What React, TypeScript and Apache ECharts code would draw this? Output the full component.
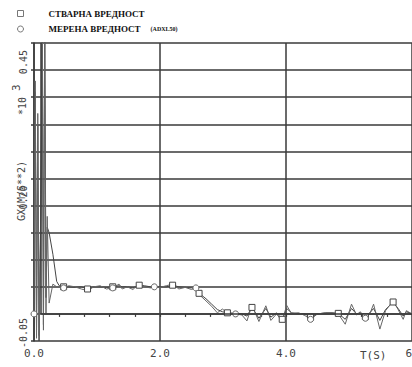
import React, { useEffect, useRef } from "react";
import * as echarts from "echarts";

const NAME_TRUE = "СТВАРНА ВРЕДНОСТ";
const NAME_MEAS = "МЕРЕНА ВРЕДНОСТ (ADXL50)";

const time = [0, 0.02, 0.04, 0.06, 0.08, 0.11, 0.13, 0.15, 0.17, 0.19, 0.21, 0.24, 0.30, 0.36, 0.40, 0.47, 0.55, 0.65, 0.75, 0.85, 0.95, 1.05, 1.15, 1.25, 1.35, 1.40, 1.48, 1.57, 1.67, 1.75, 1.85, 1.91, 2.0, 2.1, 2.2, 2.3, 2.4, 2.5, 2.57, 2.62, 2.73, 2.82, 2.91, 2.99, 3.07, 3.2, 3.3, 3.38, 3.46, 3.57, 3.68, 3.76, 3.85, 3.94, 4.01, 4.09, 4.2, 4.3, 4.39, 4.5, 4.63, 4.73, 4.83, 4.94, 5.04, 5.12, 5.18, 5.26, 5.33, 5.39, 5.49, 5.58, 5.7, 5.78, 5.86, 5.91, 6.0];

const measured = [0, 0.43, -0.045, 0.37, -0.04, 0.22, 0.57, -0.03, 0.53, 0.0, 0.18, 0.02, 0.055, 0.05, 0.05, 0.048, 0.052, 0.05, 0.046, 0.043, 0.05, 0.052, 0.046, 0.048, 0.055, 0.046, 0.05, 0.045, 0.056, 0.05, 0.048, 0.05, 0.049, 0.052, 0.055, 0.046, 0.049, 0.045, 0.048, 0.036, 0.024, 0.014, 0.002, 0.009, 0.002, 0.0, -0.002, -0.013, 0.016, -0.014, 0.015, -0.012, 0.0, -0.014, 0.016, 0.0, 0.002, -0.003, -0.01, 0.0, 0.002, 0.002, 0.0, -0.019, 0.018, -0.002, 0.004, -0.008, 0.0, 0.018, -0.028, 0.006, 0.024, 0.008, -0.01, 0.006, 0.0];

const actual = [0, 0.41, -0.03, 0.35, -0.05, 0.2, 0.52, -0.02, 0.56, 0.03, 0.16, 0.15, 0.11, 0.06, 0.052, 0.05, 0.05, 0.049, 0.05, 0.046, 0.05, 0.05, 0.049, 0.05, 0.052, 0.05, 0.05, 0.048, 0.053, 0.052, 0.05, 0.05, 0.05, 0.05, 0.053, 0.05, 0.049, 0.048, 0.046, 0.038, 0.028, 0.018, 0.008, 0.004, 0.002, 0.001, 0.0, -0.004, 0.012, -0.008, 0.01, -0.006, 0.002, -0.01, 0.01, 0.002, 0.001, 0.0, -0.006, 0.0, 0.002, 0.002, 0.001, -0.01, 0.01, 0.0, 0.002, -0.005, 0.002, 0.01, -0.012, 0.008, 0.022, 0.01, -0.004, 0.004, 0.0];

// times where markers are drawn
const squareTimes = [0.47, 0.85, 1.25, 1.67, 2.2, 2.62, 3.07, 3.46, 3.94, 4.39, 4.83, 5.26, 5.7];
const circleTimes = [0, 0.47, 1.25, 1.91, 2.57, 3.2, 4.39, 5.26];

const xLabels = ["0.0", "2.0", "4.0", "6"];
const yLabelValues = [-0.05, 0.2, 0.45];

const FRAME_T = 0.115;

export default function App() {
  const ref = useRef<HTMLDivElement>(null);
  useEffect(() => {
    if (!ref.current) return;
    const chart = echarts.init(ref.current, undefined, { renderer: "svg" });
    const lineCol = "#444";
    const gridCol = "#3a3a3a";
    const build = (vals: number[], marks: number[]) =>
      time.map((t, i) => {
        const has = marks.some((m) => Math.abs(m - t) < 1e-6);
        return has ? { value: [t, vals[i]] } : { value: [t, vals[i]], symbol: "none" };
      });
    const splitColors = Array.from({ length: 12 }, (_, i) => (i === 1 ? "rgba(0,0,0,0)" : gridCol));
    const mono = "DejaVu Sans Mono";
    chart.setOption({
      animation: false,
      backgroundColor: "#ffffff",
      legend: {
        orient: "vertical",
        left: 12,
        top: 4,
        itemWidth: 6,
        itemHeight: 6,
        itemGap: 5,
        selectedMode: false,
        data: [
          { name: NAME_TRUE, icon: "rect", itemStyle: { color: "#fff", borderColor: "#777", borderWidth: 1 } },
          { name: NAME_MEAS, icon: "circle", itemStyle: { color: "#fff", borderColor: "#777", borderWidth: 1 } },
        ],
        formatter: (name: string) =>
          name === NAME_MEAS ? "{a|МЕРЕНА ВРЕДНОСТ}   {b|(ADXL50)}" : "{a|" + name + "}",
        textStyle: {
          padding: [0, 0, 0, 20],
          rich: {
            a: { fontFamily: "Liberation Serif", fontWeight: "bold", fontSize: 9, color: "#111" },
            b: { fontFamily: "Liberation Serif", fontWeight: "bold", fontSize: 6, color: "#111" },
          },
        },
      },
      grid: { left: 34, right: 6, top: 43, bottom: 26, containLabel: false, outerBoundsMode: "none" },
      xAxis: {
        type: "value",
        min: 0,
        max: 6,
        interval: 2,
        axisLine: { lineStyle: { color: gridCol, width: 1.5 } },
        axisTick: { show: true, length: 3, lineStyle: { color: gridCol, width: 1.2 } },
        minorTick: { show: true, splitNumber: 5, length: 3, lineStyle: { color: gridCol, width: 1.2 } },
        splitLine: { show: true, lineStyle: { color: gridCol, width: 1.5 } },
        axisLabel: {
          margin: 7,
          fontFamily: mono,
          fontSize: 11,
          color: "#444",
          alignMaxLabel: "right",
          formatter: (v: number) => {
            const idx = Math.round(v / 2);
            return xLabels[idx] ?? "";
          },
        },
      },
      yAxis: {
        type: "value",
        min: -0.05,
        max: 0.5,
        interval: 0.05,
        name: "GX(M/S**2)",
        nameLocation: "middle",
        nameRotate: 90,
        nameGap: 8,
        nameMoveOverlap: false,
        nameTextStyle: { fontFamily: mono, fontSize: 10, color: "#444", padding: [0, 0, 0, 2] },
        axisLine: { show: true, lineStyle: { color: gridCol, width: 1.5 } },
        axisTick: { show: true, length: 3, lineStyle: { color: gridCol, width: 1.5 } },
        splitLine: { show: true, lineStyle: { color: splitColors, width: 1.5 } },
        axisLabel: {
          rotate: 90,
          margin: 6,
          fontFamily: mono,
          fontSize: 10,
          color: "#444",
          padding: [0, 0, 0, 16],
          formatter: (v: number) => {
            const r = Math.round(v * 100) / 100;
            return yLabelValues.some((y) => Math.abs(y - r) < 1e-6) ? r.toFixed(2) : "";
          },
        },
      },
      graphic: [
        { type: "text", left: 360, top: 350, style: { text: "T(S)", font: "11px DejaVu Sans Mono", fill: "#444" } },
        { type: "text", x: 17, y: 115, rotation: Math.PI / 2, style: { text: "*10", font: "10px DejaVu Sans Mono", fill: "#444" } },
        { type: "text", x: 11, y: 91, rotation: Math.PI / 2, style: { text: "3", font: "11px DejaVu Sans Mono", fill: "#444" } },
      ],
      series: [
        {
          name: NAME_TRUE,
          type: "line",
          data: build(actual, squareTimes),
          symbol: "rect",
          symbolSize: 6,
          showAllSymbol: true,
          lineStyle: { color: lineCol, width: 1 },
          itemStyle: { color: "#fff", borderColor: "#444", borderWidth: 1 },
          markLine: {
            silent: true,
            symbol: "none",
            label: { show: false },
            lineStyle: { color: gridCol, width: 1.5, type: "solid" },
            data: [
              [{ coord: [FRAME_T, 0] }, { coord: [6, 0] }],
              [{ coord: [FRAME_T, 0] }, { coord: [FRAME_T, 0.5] }],
            ],
          },
        },
        {
          name: NAME_MEAS,
          type: "line",
          data: build(measured, circleTimes),
          symbol: "circle",
          symbolSize: 6,
          showAllSymbol: true,
          lineStyle: { color: "#666", width: 1 },
          itemStyle: { color: "#fff", borderColor: "#666", borderWidth: 1 },
        },
      ],
    });
    return () => chart.dispose();
  }, []);
  return (
    <div style={{ position: "fixed", left: 0, top: 0, width: 412, height: 367, overflow: "hidden", background: "#fff" }}>
      <div ref={ref} style={{ width: 418, height: 367 }} />
    </div>
  );
}
